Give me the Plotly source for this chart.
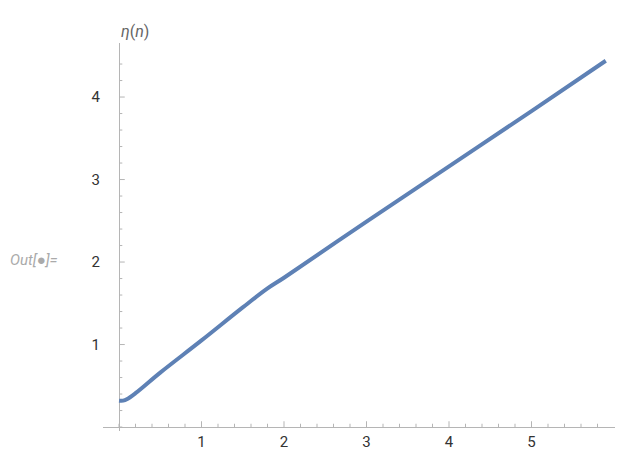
import plotly.graph_objects as go

n_vals = [0, 0.05, 0.1, 0.2, 0.5, 1.0, 1.5, 1.8, 2.0, 3.0, 4.0, 5.0, 5.9]
eta_vals = [0.32, 0.32, 0.34, 0.41, 0.66, 1.05, 1.45, 1.68, 1.81, 2.49, 3.16, 3.83, 4.44]
x_ticks = [1, 2, 3, 4, 5]
y_ticks = [1, 2, 3, 4]

fig = go.Figure(go.Scatter(x=n_vals, y=eta_vals, mode="lines",
                           line=dict(color="#5E81B5", width=4, shape="spline")))

axis_col = "#b5b5b5"
shapes = []
for i in range(-1, 30):
    v = i * 0.2
    if v < -0.19 or v > 5.9:
        continue
    major = abs(v - round(v)) < 1e-9 and round(v) != 0
    L = 0.07 if major else 0.04
    shapes.append(dict(type="line", x0=v, x1=v, y0=0, y1=L,
                       line=dict(color=axis_col, width=1)))
for i in range(-1, 24):
    v = i * 0.2
    if v < -0.04 or v > 4.6:
        continue
    major = abs(v - round(v)) < 1e-9 and round(v) != 0
    L = 0.07 if major else 0.04
    shapes.append(dict(type="line", y0=v, y1=v, x0=0, x1=L,
                       line=dict(color=axis_col, width=1)))

fig.update_layout(
    width=623, height=453,
    margin=dict(l=95, r=0, t=35, b=30, autoexpand=False),
    plot_bgcolor="white", paper_bgcolor="white",
    showlegend=False,
    shapes=shapes,
    font=dict(family="Roboto, Liberation Sans, sans-serif", size=15, color="#333"),
    xaxis=dict(range=[-0.194, 6.206], tickvals=x_ticks, showgrid=False, automargin=False,
               zeroline=True, zerolinecolor=axis_col, zerolinewidth=1,
               showline=False, ticks=""),
    yaxis=dict(range=[-0.048, 4.655], tickvals=y_ticks, showgrid=False, automargin=False,
               zeroline=True, zerolinecolor=axis_col, zerolinewidth=1,
               showline=False, ticks="", ticklabelstandoff=2),
    annotations=[
        dict(text="<i>η</i>(<i>n</i>)", xref="paper", yref="paper", x=0.03, y=1.0,
             yanchor="bottom", xanchor="left", showarrow=False,
             font=dict(size=16, color="#666")),
        dict(text="<i>n</i>", xref="paper", yref="y", x=0.985, y=0,
             xanchor="center", yanchor="middle", showarrow=False,
             font=dict(size=17, color="#666")),
        dict(text="<i>Out[</i>●<i>]=</i>", xref="paper", yref="paper", x=-0.18, y=0.44,
             xanchor="left", yanchor="middle", showarrow=False,
             font=dict(size=15, color="#aaa")),
    ],
)

fig.write_html("out.html")
